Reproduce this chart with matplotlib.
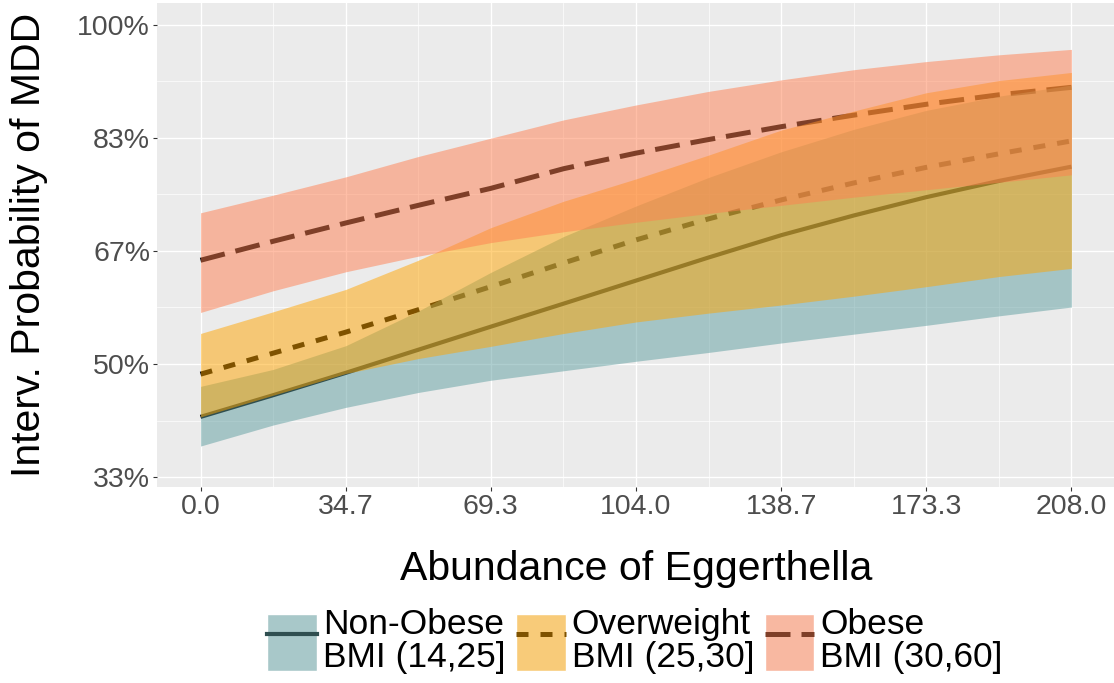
import matplotlib
matplotlib.use("Agg")
import matplotlib.pyplot as plt
from matplotlib.lines import Line2D
from matplotlib.patches import Patch
from matplotlib.legend_handler import HandlerTuple

plt.rcParams['font.family'] = ['Liberation Sans', 'DejaVu Sans']

# abundance grid (read at major and minor grid lines)
x_vals = [0.0, 17.35, 34.7, 52.0, 69.3, 86.7, 104.0, 121.3, 138.7, 156.0, 173.3, 190.7, 208.0]
x_ticks = [0.0, 34.7, 69.3, 104.0, 138.7, 173.3, 208.0]
x_labels = ['0.0', '34.7', '69.3', '104.0', '138.7', '173.3', '208.0']
y_ticks = [1/3, 1/2, 2/3, 5/6, 1.0]
y_labels = ['33%', '50%', '67%', '83%', '100%']

groups = ['Non-Obese\nBMI (14,25]', 'Overweight\nBMI (25,30]', 'Obese\nBMI (30,60]']

nonobese_fit = [0.422, 0.454, 0.487, 0.521, 0.555, 0.589, 0.623, 0.657, 0.690, 0.719, 0.746, 0.770, 0.791]
nonobese_lo = [0.379, 0.410, 0.436, 0.458, 0.476, 0.490, 0.504, 0.517, 0.531, 0.544, 0.557, 0.571, 0.584]
nonobese_hi = [0.467, 0.492, 0.527, 0.578, 0.635, 0.688, 0.733, 0.775, 0.813, 0.846, 0.874, 0.895, 0.9115]

overweight_fit = [0.485, 0.516, 0.547, 0.580, 0.614, 0.649, 0.683, 0.714, 0.742, 0.767, 0.790, 0.810, 0.829]
overweight_lo = [0.422, 0.454, 0.486, 0.508, 0.526, 0.545, 0.562, 0.575, 0.587, 0.600, 0.614, 0.629, 0.641]
overweight_hi = [0.545, 0.577, 0.610, 0.653, 0.701, 0.740, 0.773, 0.808, 0.845, 0.873, 0.900, 0.918, 0.930]

obese_fit = [0.653, 0.681, 0.708, 0.734, 0.759, 0.788, 0.811, 0.831, 0.850, 0.867, 0.883, 0.897, 0.908]
obese_lo = [0.576, 0.608, 0.636, 0.659, 0.679, 0.695, 0.709, 0.722, 0.734, 0.746, 0.757, 0.768, 0.779]
obese_hi = [0.723, 0.749, 0.776, 0.806, 0.833, 0.860, 0.882, 0.902, 0.919, 0.934, 0.946, 0.956, 0.964]

fits = [nonobese_fit, overweight_fit, obese_fit]
los = [nonobese_lo, overweight_lo, obese_lo]
his = [nonobese_hi, overweight_hi, obese_hi]
fills = ['cadetblue', 'orange', 'coral']
key_fills = ['#A8C8C9', '#F8CB79', '#F8B8A1']
key_lines = ['#2F4F50', '#7F5200', '#7F3F28']
styles = ['-', (0, (2.4, 2.4)), (0, (5.0, 2.2))]
widths = [3.0, 3.6, 3.6]

fig = plt.figure(figsize=(11.14, 6.83), dpi=100)
ax = fig.add_axes([157/1114, 1 - 487/683, (1115 - 157)/1114, (487 - 3)/683])
ax.set_facecolor('#EBEBEB')

# lines sit under the translucent ribbons
for fit, ls, lw in zip(fits, styles, widths):
    ax.plot(x_vals, fit, color='black', linestyle=ls, lw=lw,
            dash_capstyle='butt', solid_capstyle='butt', zorder=2)
for i, (lo, hi, c) in enumerate(zip(los, his, fills)):
    ax.fill_between(x_vals, lo, hi, color=c, alpha=0.5, lw=0, zorder=3 + i)

ax.set_xlim(-10.4, 218.4)
ax.set_ylim(0.3186, 1.0324)
ax.set_xticks(x_ticks)
ax.set_xticklabels(x_labels)
ax.set_yticks(y_ticks)
ax.set_yticklabels(y_labels)
ax.set_xticks([(a + b) / 2 for a, b in zip(x_ticks[:-1], x_ticks[1:])], minor=True)
ax.set_yticks([(a + b) / 2 for a, b in zip(y_ticks[:-1], y_ticks[1:])], minor=True)
ax.grid(which='major', color='white', lw=1.0, zorder=1)
ax.grid(which='minor', color='white', lw=0.5, zorder=1)
ax.set_axisbelow(True)
for s in ax.spines.values():
    s.set_visible(False)
ax.tick_params(which='major', length=3, width=0.8, color='#333333',
               labelsize=20.5, labelcolor='#4D4D4D', pad=2)
ax.tick_params(which='minor', length=0)

ax.set_xlabel('Abundance of Eggerthella', fontsize=29.5, labelpad=22)
ax.set_ylabel('Interv. Probability of MDD', fontsize=29.5, labelpad=21)

handles = [(Patch(facecolor=kf, edgecolor='white', lw=1),
            Line2D([], [], color=kl, ls=ls, lw=lw, dash_capstyle='butt'))
           for kl, kf, ls, lw in zip(key_lines, key_fills, styles, widths)]
leg = fig.legend(handles, groups, loc='center', bbox_to_anchor=(0.570, 0.062),
                 ncol=3, frameon=False, fontsize=25.5, handlelength=1.4,
                 handleheight=2.1, handletextpad=0.17, columnspacing=0.3,
                 handler_map={tuple: HandlerTuple(ndivide=1, pad=0)})
for t in leg.get_texts():
    t.set_linespacing(1.0)

fig.savefig('out.png', dpi=100)
